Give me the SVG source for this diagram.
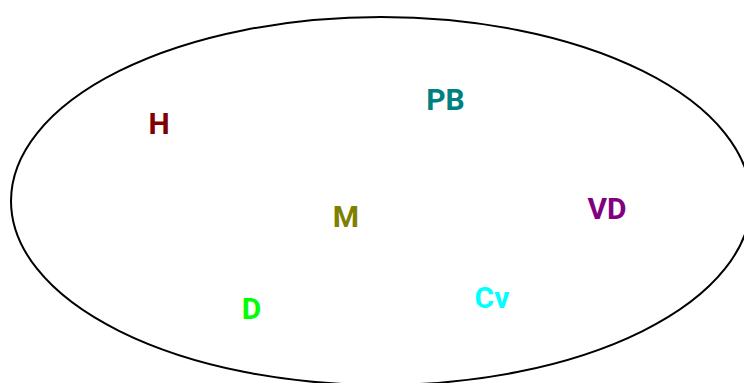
<svg xmlns="http://www.w3.org/2000/svg" width="744" height="383" viewBox="0 0 744 383">
<style>
.lbl{font-family:Roboto,"Liberation Sans",sans-serif;font-weight:bold;font-size:30px;text-anchor:middle}
</style>
<rect width="744" height="383" fill="#fff"/>
<g id="boundary"><ellipse cx="381" cy="201" rx="370" ry="184" fill="none" stroke="#000" stroke-width="2"/></g>
<g id="connectors"></g>
<g id="H"><text class="lbl" x="159" y="133.5" fill="#800000">H</text></g>
<g id="PB"><text class="lbl" x="445.5" y="110" fill="#008080">PB</text></g>
<g id="M"><text class="lbl" x="346" y="226.5" fill="#808000">M</text></g>
<g id="VD"><text class="lbl" x="607" y="218.5" fill="#800080">VD</text></g>
<g id="D"><text class="lbl" x="251.5" y="318.5" fill="#00ff00">D</text></g>
<g id="Cv"><text class="lbl" x="492" y="307.5" fill="#00ffff">Cv</text></g>
</svg>
